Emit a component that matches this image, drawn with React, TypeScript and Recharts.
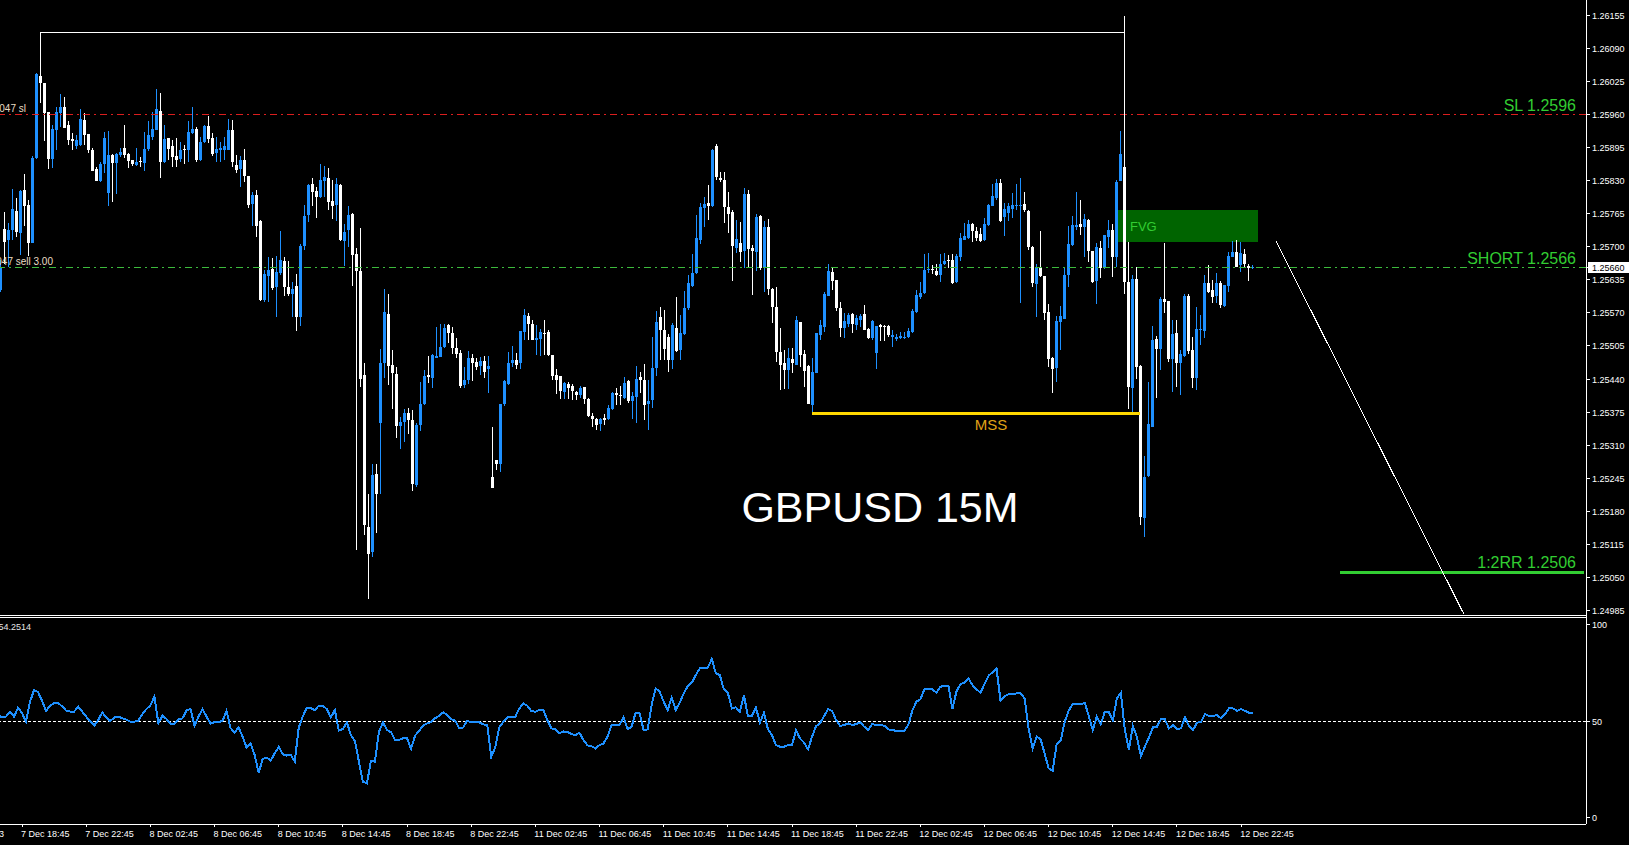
import React from 'react';
import { ComposedChart, Bar, Line, XAxis, YAxis, ReferenceLine, ReferenceArea } from 'recharts';

// ---- GBPUSD 15M candles (7 Dec 17:15 ... 12 Dec 23:30), one value per bar ----
const OPEN = [
1.25615,1.25735,1.25713,1.25733,1.25770,1.25726,1.25812,1.25782,1.25708,1.25874,
1.26036,1.26022,1.25965,1.25872,1.25929,1.25962,1.25975,1.25939,1.25912,1.25898,
1.25900,1.25949,1.25922,1.25889,1.25853,1.25830,1.25862,1.25806,1.25880,1.25864,
1.25880,1.25893,1.25882,1.25871,1.25861,1.25869,1.25865,1.25892,1.25916,1.25929,
1.25967,1.25867,1.25913,1.25898,1.25878,1.25872,1.25892,1.25889,1.25923,1.25931,
1.25871,1.25905,1.25937,1.25913,1.25885,1.25889,1.25890,1.25890,1.25929,1.25861,
1.25853,1.25871,1.25839,1.25784,1.25802,1.25751,1.25595,1.25643,1.25656,1.25621,
1.25648,1.25672,1.25620,1.25607,1.25623,1.25561,1.25701,1.25762,1.25823,1.25810,
1.25798,1.25830,1.25834,1.25790,1.25781,1.25821,1.25712,1.25733,1.25764,1.25686,
1.25653,1.25448,1.25150,1.25101,1.25253,1.25354,1.25472,1.25568,1.25468,1.25450,
1.25348,1.25356,1.25374,1.25360,1.25232,1.25350,1.25392,1.25448,1.25443,1.25482,
1.25484,1.25504,1.25546,1.25530,1.25502,1.25492,1.25428,1.25439,1.25482,1.25474,
1.25466,1.25476,1.25459,1.25248,1.25282,1.25274,1.25391,1.25431,1.25471,1.25477,
1.25471,1.25533,1.25564,1.25548,1.25516,1.25518,1.25531,1.25533,1.25487,1.25448,
1.25446,1.25415,1.25431,1.25426,1.25415,1.25408,1.25425,1.25400,1.25367,1.25361,
1.25351,1.25364,1.25361,1.25382,1.25412,1.25408,1.25402,1.25436,1.25397,1.25405,
1.25444,1.25438,1.25391,1.25398,1.25461,1.25562,1.25537,1.25523,1.25478,1.25541,
1.25497,1.25529,1.25579,1.25622,1.25649,1.25714,1.25776,1.25786,1.25780,1.25898,
1.25834,1.25831,1.25778,1.25769,1.25698,1.25708,1.25692,1.25803,1.25698,1.25690,
1.25760,1.25659,1.25739,1.25616,1.25582,1.25493,1.25471,1.25458,1.25479,1.25468,
1.25553,1.25490,1.25466,1.25389,1.25452,1.25526,1.25543,1.25603,1.25651,1.25635,
1.25579,1.25540,1.25549,1.25568,1.25546,1.25557,1.25568,1.25538,1.25520,1.25492,
1.25546,1.25545,1.25545,1.25522,1.25518,1.25520,1.25521,1.25522,1.25533,1.25572,
1.25602,1.25610,1.25654,1.25656,1.25652,1.25644,1.25666,1.25674,1.25674,1.25631,
1.25680,1.25714,1.25718,1.25745,1.25731,1.25725,1.25713,1.25743,1.25780,1.25795,
1.25826,1.25758,1.25767,1.25775,1.25779,1.25779,1.25784,1.25771,1.25700,1.25627,
1.25659,1.25642,1.25572,1.25481,1.25461,1.25553,1.25558,1.25644,1.25703,1.25738,
1.25745,1.25739,1.25752,1.25692,1.25633,1.25697,1.25659,1.25720,1.25733,1.25680,
1.25829,1.25856,1.25631,1.25422,1.25636,1.25466,1.25168,1.25249,1.25346,1.25518,
1.25500,1.25597,1.25593,1.25479,1.25530,1.25471,1.25486,1.25603,1.25498,1.25443,
1.25536,1.25535,1.25628,1.25615,1.25603,1.25628,1.25583,1.25623,1.25680,1.25689,
1.25664,1.25686,1.25663,1.25658,
];

const HIGH = [
1.25674,1.25769,1.25746,1.25813,1.25795,1.25812,1.25842,1.25792,1.25878,1.26042,
1.26047,1.26022,1.25965,1.25939,1.25975,1.25999,1.25994,1.25946,1.25923,1.25920,
1.25971,1.25962,1.25922,1.25893,1.25856,1.25867,1.25925,1.25928,1.25882,1.25884,
1.25893,1.25939,1.25884,1.25871,1.25893,1.25877,1.25926,1.25946,1.25964,1.26009,
1.26002,1.25939,1.25913,1.25910,1.25913,1.25906,1.25900,1.25946,1.25974,1.25936,
1.25916,1.25939,1.25957,1.25923,1.25916,1.25905,1.25916,1.25950,1.25949,1.25880,
1.25878,1.25891,1.25839,1.25808,1.25812,1.25753,1.25654,1.25680,1.25677,1.25682,
1.25730,1.25680,1.25672,1.25630,1.25646,1.25705,1.25782,1.25824,1.25834,1.25818,
1.25862,1.25859,1.25855,1.25831,1.25834,1.25824,1.25745,1.25780,1.25766,1.25697,
1.25736,1.25471,1.25215,1.25273,1.25273,1.25500,1.25616,1.25607,1.25497,1.25464,
1.25366,1.25382,1.25384,1.25379,1.25353,1.25435,1.25458,1.25485,1.25489,1.25543,
1.25549,1.25549,1.25548,1.25543,1.25521,1.25497,1.25464,1.25496,1.25489,1.25481,
1.25484,1.25485,1.25485,1.25346,1.25282,1.25392,1.25438,1.25494,1.25505,1.25492,
1.25534,1.25577,1.25570,1.25556,1.25546,1.25539,1.25557,1.25537,1.25487,1.25459,
1.25446,1.25434,1.25434,1.25431,1.25417,1.25426,1.25425,1.25402,1.25374,1.25364,
1.25364,1.25372,1.25389,1.25415,1.25423,1.25426,1.25444,1.25439,1.25415,1.25465,
1.25454,1.25469,1.25438,1.25523,1.25573,1.25582,1.25575,1.25528,1.25550,1.25602,
1.25565,1.25613,1.25644,1.25685,1.25763,1.25785,1.25797,1.25821,1.25891,1.25901,
1.25847,1.25847,1.25807,1.25772,1.25753,1.25749,1.25816,1.25811,1.25703,1.25764,
1.25762,1.25751,1.25755,1.25618,1.25620,1.25540,1.25497,1.25502,1.25502,1.25563,
1.25553,1.25497,1.25468,1.25481,1.25531,1.25556,1.25612,1.25667,1.25659,1.25635,
1.25592,1.25569,1.25570,1.25570,1.25566,1.25567,1.25585,1.25540,1.25556,1.25544,
1.25549,1.25547,1.25546,1.25536,1.25528,1.25533,1.25533,1.25540,1.25577,1.25614,
1.25631,1.25686,1.25687,1.25664,1.25667,1.25686,1.25687,1.25684,1.25686,1.25686,
1.25726,1.25747,1.25752,1.25747,1.25739,1.25736,1.25756,1.25784,1.25824,1.25832,
1.25832,1.25785,1.25785,1.25805,1.25824,1.25834,1.25808,1.25772,1.25701,1.25667,
1.25730,1.25642,1.25587,1.25483,1.25563,1.25584,1.25661,1.25741,1.25760,1.25808,
1.25792,1.25764,1.25754,1.25692,1.25707,1.25712,1.25723,1.25752,1.25745,1.25831,
1.25927,1.25870,1.25710,1.25644,1.25661,1.25468,1.25289,1.25435,1.25544,1.25525,
1.25602,1.25707,1.25593,1.25557,1.25557,1.25498,1.25608,1.25608,1.25522,1.25581,
1.25566,1.25644,1.25665,1.25635,1.25649,1.25633,1.25625,1.25690,1.25712,1.25713,
1.25710,1.25695,1.25667,1.25664,
];

const LOW = [
1.25612,1.25667,1.25661,1.25713,1.25720,1.25684,1.25740,1.25681,1.25708,1.25872,
1.25983,1.25908,1.25853,1.25854,1.25889,1.25936,1.25933,1.25900,1.25890,1.25891,
1.25898,1.25900,1.25884,1.25848,1.25830,1.25828,1.25844,1.25779,1.25787,1.25804,
1.25877,1.25874,1.25855,1.25859,1.25859,1.25857,1.25848,1.25887,1.25910,1.25929,
1.25834,1.25864,1.25871,1.25856,1.25856,1.25867,1.25862,1.25867,1.25922,1.25867,
1.25869,1.25903,1.25903,1.25879,1.25867,1.25867,1.25871,1.25890,1.25856,1.25844,
1.25818,1.25828,1.25776,1.25740,1.25719,1.25594,1.25592,1.25592,1.25615,1.25561,
1.25644,1.25604,1.25604,1.25561,1.25535,1.25545,1.25693,1.25749,1.25779,1.25757,
1.25796,1.25798,1.25772,1.25754,1.25750,1.25712,1.25662,1.25700,1.25623,1.25104,
1.25425,1.25133,1.25009,1.25090,1.25138,1.25215,1.25443,1.25428,1.25382,1.25325,
1.25302,1.25317,1.25333,1.25221,1.25228,1.25338,1.25389,1.25433,1.25423,1.25481,
1.25483,1.25502,1.25511,1.25489,1.25481,1.25422,1.25422,1.25431,1.25436,1.25458,
1.25448,1.25443,1.25413,1.25226,1.25261,1.25258,1.25387,1.25428,1.25464,1.25459,
1.25459,1.25516,1.25516,1.25516,1.25487,1.25485,1.25488,1.25485,1.25439,1.25410,
1.25400,1.25400,1.25400,1.25398,1.25398,1.25402,1.25391,1.25366,1.25345,1.25340,
1.25338,1.25349,1.25359,1.25380,1.25389,1.25389,1.25400,1.25393,1.25362,1.25353,
1.25412,1.25359,1.25340,1.25384,1.25446,1.25477,1.25477,1.25454,1.25459,1.25493,
1.25478,1.25526,1.25575,1.25621,1.25646,1.25706,1.25739,1.25753,1.25777,1.25831,
1.25827,1.25747,1.25727,1.25633,1.25688,1.25670,1.25659,1.25659,1.25605,1.25653,
1.25655,1.25611,1.25605,1.25550,1.25474,1.25418,1.25420,1.25420,1.25452,1.25468,
1.25464,1.25425,1.25392,1.25373,1.25451,1.25517,1.25533,1.25603,1.25615,1.25574,
1.25523,1.25520,1.25543,1.25530,1.25536,1.25543,1.25536,1.25518,1.25517,1.25460,
1.25515,1.25515,1.25523,1.25504,1.25515,1.25518,1.25519,1.25520,1.25531,1.25570,
1.25597,1.25608,1.25648,1.25646,1.25642,1.25631,1.25664,1.25659,1.25627,1.25629,
1.25671,1.25714,1.25716,1.25710,1.25712,1.25710,1.25712,1.25741,1.25779,1.25792,
1.25749,1.25721,1.25751,1.25756,1.25773,1.25590,1.25769,1.25693,1.25620,1.25562,
1.25641,1.25556,1.25464,1.25413,1.25435,1.25497,1.25558,1.25621,1.25701,1.25732,
1.25723,1.25680,1.25669,1.25628,1.25587,1.25638,1.25656,1.25697,1.25641,1.25661,
1.25829,1.25607,1.25382,1.25376,1.25441,1.25153,1.25130,1.25248,1.25345,1.25402,
1.25458,1.25569,1.25474,1.25415,1.25425,1.25409,1.25484,1.25490,1.25422,1.25418,
1.25507,1.25520,1.25610,1.25590,1.25589,1.25579,1.25582,1.25612,1.25679,1.25661,
1.25651,1.25658,1.25633,1.25656,
];

const CLOSE = [
1.25661,1.25710,1.25733,1.25774,1.25728,1.25810,1.25780,1.25708,1.25875,1.26039,
1.26022,1.25962,1.25872,1.25931,1.25965,1.25975,1.25934,1.25910,1.25908,1.25910,
1.25951,1.25920,1.25889,1.25849,1.25830,1.25863,1.25914,1.25880,1.25864,1.25882,
1.25886,1.25880,1.25869,1.25862,1.25867,1.25867,1.25892,1.25920,1.25931,1.25971,
1.25867,1.25912,1.25892,1.25877,1.25871,1.25890,1.25889,1.25926,1.25931,1.25871,
1.25906,1.25937,1.25912,1.25882,1.25891,1.25893,1.25897,1.25929,1.25867,1.25851,
1.25871,1.25838,1.25782,1.25802,1.25740,1.25595,1.25646,1.25654,1.25619,1.25650,
1.25674,1.25620,1.25607,1.25617,1.25561,1.25701,1.25760,1.25821,1.25808,1.25798,
1.25831,1.25836,1.25788,1.25779,1.25823,1.25713,1.25728,1.25762,1.25684,1.25653,
1.25441,1.25153,1.25097,1.25251,1.25215,1.25471,1.25571,1.25466,1.25451,1.25348,
1.25356,1.25373,1.25360,1.25234,1.25350,1.25392,1.25446,1.25445,1.25487,1.25485,
1.25504,1.25541,1.25530,1.25502,1.25489,1.25426,1.25439,1.25482,1.25471,1.25464,
1.25476,1.25454,1.25466,1.25226,1.25274,1.25391,1.25437,1.25472,1.25477,1.25468,
1.25534,1.25565,1.25548,1.25516,1.25521,1.25533,1.25529,1.25487,1.25446,1.25439,
1.25416,1.25432,1.25423,1.25416,1.25408,1.25423,1.25400,1.25367,1.25361,1.25349,
1.25361,1.25359,1.25383,1.25412,1.25408,1.25407,1.25432,1.25397,1.25406,1.25441,
1.25438,1.25389,1.25397,1.25461,1.25552,1.25537,1.25499,1.25478,1.25546,1.25495,
1.25531,1.25579,1.25628,1.25649,1.25718,1.25777,1.25784,1.25780,1.25890,1.25836,
1.25831,1.25778,1.25765,1.25701,1.25715,1.25690,1.25803,1.25696,1.25692,1.25759,
1.25659,1.25738,1.25616,1.25582,1.25493,1.25467,1.25458,1.25481,1.25471,1.25556,
1.25487,1.25456,1.25392,1.25454,1.25531,1.25546,1.25607,1.25653,1.25633,1.25579,
1.25540,1.25555,1.25566,1.25548,1.25559,1.25564,1.25536,1.25520,1.25554,1.25544,
1.25543,1.25543,1.25526,1.25526,1.25523,1.25525,1.25523,1.25534,1.25574,1.25605,
1.25610,1.25654,1.25656,1.25654,1.25644,1.25667,1.25672,1.25672,1.25628,1.25682,
1.25718,1.25722,1.25745,1.25730,1.25718,1.25712,1.25745,1.25782,1.25800,1.25826,
1.25750,1.25775,1.25779,1.25782,1.25782,1.25782,1.25772,1.25700,1.25628,1.25659,
1.25642,1.25570,1.25479,1.25459,1.25554,1.25563,1.25644,1.25705,1.25743,1.25743,
1.25739,1.25754,1.25692,1.25630,1.25699,1.25659,1.25723,1.25733,1.25679,1.25828,
1.25882,1.25631,1.25425,1.25636,1.25464,1.25170,1.25247,1.25352,1.25517,1.25500,
1.25597,1.25592,1.25479,1.25528,1.25471,1.25489,1.25603,1.25495,1.25443,1.25538,
1.25538,1.25628,1.25612,1.25601,1.25628,1.25585,1.25625,1.25682,1.25690,1.25661,
1.25688,1.25666,1.25658,1.25660,
];

// RSI(14) as read from the lower window
const RSI = [
53.2,51.8,52.3,54.9,52.3,56.9,54.0,49.7,60.1,66.1,
64.9,60.4,55.2,58.0,59.2,59.4,57.5,55.4,54.9,54.9,
57.5,54.9,52.3,49.7,47.6,50.6,54.4,51.8,50.0,51.8,
52.3,51.4,50.7,49.7,49.7,50.2,53.5,56.2,58.0,62.6,
48.8,52.8,51.1,48.7,48.7,50.9,51.4,55.4,56.2,47.6,
52.3,56.1,52.3,48.7,49.4,49.5,50.0,55.2,46.3,44.2,
46.6,41.9,36.2,38.5,32.4,23.1,30.4,31.1,29.5,33.3,
36.6,32.8,32.1,32.5,29.0,46.6,52.3,56.9,56.6,55.6,
58.0,58.0,56.1,51.8,55.7,45.0,45.9,49.2,42.8,39.7,
29.0,18.6,17.8,29.3,29.0,44.5,49.2,45.4,44.2,40.2,
40.2,41.1,41.1,35.6,42.4,44.9,47.6,48.8,49.4,51.4,
52.6,54.5,53.1,51.0,50.2,46.2,46.7,50.2,49.3,49.3,
49.3,48.3,47.9,31.5,36.4,46.7,49.6,51.9,52.2,52.2,
56.5,59.1,57.9,55.2,54.8,55.7,55.7,50.5,46.2,45.7,
43.6,44.6,44.3,43.3,42.7,43.9,40.1,37.4,37.0,35.8,
37.6,38.4,41.9,47.9,47.9,47.9,51.9,45.8,47.0,54.3,
53.9,45.3,45.7,58.3,66.9,65.2,60.0,55.7,62.2,55.7,
59.5,64.3,68.1,69.8,73.8,77.2,77.2,77.6,82.1,74.7,
73.8,66.4,64.6,56.5,57.1,54.8,63.4,52.6,52.6,57.1,
49.1,54.3,45.7,42.7,37.6,36.7,36.7,37.6,37.6,45.3,
41.0,38.8,35.3,41.9,47.4,48.8,52.6,56.2,55.2,50.5,
47.4,47.9,48.8,47.9,48.4,49.3,47.1,45.3,48.4,47.9,
47.9,47.6,45.7,45.2,45.0,45.0,45.0,47.9,55.3,60.0,
61.2,66.4,66.5,66.5,64.6,67.7,68.3,68.3,56.2,65.2,
69.1,69.8,72.1,68.6,66.5,64.6,69.1,73.4,75.2,77.2,
60.5,62.9,63.8,63.8,64.3,64.3,61.7,46.2,35.8,41.9,
40.5,33.2,25.5,24.3,38.1,39.8,49.6,55.3,58.8,58.8,
58.6,59.5,52.6,45.3,52.2,48.4,54.8,54.8,50.2,61.7,
64.6,45.3,35.3,47.4,41.9,31.9,36.7,41.5,46.7,47.1,
50.8,50.8,46.2,47.9,45.8,46.2,51.9,47.4,45.3,49.1,
49.6,53.6,52.6,52.6,53.1,51.4,53.6,56.7,56.5,55.3,
56.2,55.2,54.3,54.3,
];

// time axis labels (bar index -> label)
const TIME_TICK_INDEX = [6, 22, 38, 54, 70, 86, 102, 118, 134, 150, 166, 182, 198, 214, 230, 246, 262, 278, 294, 310];
const TIME_TICK_LABELS = [
  '7 Dec 18:45', '7 Dec 22:45', '8 Dec 02:45', '8 Dec 06:45', '8 Dec 10:45', '8 Dec 14:45', '8 Dec 18:45',
  '8 Dec 22:45', '11 Dec 02:45', '11 Dec 06:45', '11 Dec 10:45', '11 Dec 14:45', '11 Dec 18:45',
  '11 Dec 22:45', '12 Dec 02:45', '12 Dec 06:45', '12 Dec 10:45', '12 Dec 14:45', '12 Dec 18:45', '12 Dec 22:45',
];

// price axis labels
const PRICE_TICKS = [
  1.26155, 1.2609, 1.26025, 1.2596, 1.25895, 1.2583, 1.25765, 1.257, 1.2566, 1.25635,
  1.2557, 1.25505, 1.2544, 1.25375, 1.2531, 1.25245, 1.2518, 1.25115, 1.2505, 1.24985,
];
const RSI_TICKS = [0, 50, 100];

// levels & drawings
const LAST_PRICE = 1.2566;
const SL_PRICE = 1.2596;
const SHORT_PRICE = 1.2566;
const TP_PRICE = 1.2506;
const TP_FROM = 335;
const MSS_PRICE = 1.25373;
const MSS_FROM = 203;
const MSS_TO = 285;
const FVG_FROM = 280;
const FVG_TO = 314;
const FVG_LOW = 1.2571;
const FVG_HIGH = 1.25773;
const RANGE_TOP = 1.2612;
const RANGE_LEFT = 10;
const RANGE_LEFT_LOW = 1.26045;
const RANGE_RIGHT = 281;
const RANGE_RIGHT_TOP = 1.26153;
const RANGE_RIGHT_LOW = 1.2587;
const PROJ_FROM = 319;
const PROJ_FROM_PRICE = 1.25711;
const PROJ_TO = 366;
const PROJ_TO_PRICE = 1.24978;

const SLOTS = 397;
const PRICE_MIN = 1.249767;
const PRICE_MAX = 1.261845;
const RSI_MIN = -3.3;
const RSI_MAX = 102.8;

const FONT = "'Liberation Sans', Arial, sans-serif";
const BULL = '#1E90FF';
const BEAR = '#FFFFFF';
const GREEN_TEXT = '#32CD32';
const ORDER_TEXT = '#eadcc4';

const data = Array.from({ length: SLOTS }, (_, i) =>
  i < CLOSE.length
    ? { i, o: OPEN[i], h: HIGH[i], l: LOW[i], c: CLOSE[i], range: [LOW[i], HIGH[i]], rsi: RSI[i] }
    : { i }
);

const Candle = (props: any) => {
  const { x, y, width, height, payload } = props;
  if (!payload || payload.o == null || x == null || y == null) return <g />;
  const top = Math.min(y, y + height);
  const bottom = Math.max(y, y + height);
  const span = payload.h - payload.l;
  const toY = (p: number) => (span > 0 ? top + ((payload.h - p) / span) * (bottom - top) : top);
  const color = payload.c >= payload.o ? BULL : BEAR;
  const cx = Math.round(x + width / 2) - 1;
  const wTop = Math.round(top);
  const wBot = Math.round(bottom);
  const bTop = Math.round(toY(Math.max(payload.o, payload.c)));
  const bBot = Math.round(toY(Math.min(payload.o, payload.c)));
  return (
    <g>
      <rect x={cx} y={wTop} width={1} height={Math.max(1, wBot - wTop)} fill={color} />
      <rect x={cx - 1} y={bTop} width={3} height={Math.max(1, bBot - bTop)} fill={color} />
    </g>
  );
};

const PriceTick = (props: any) => {
  const { x, y, payload } = props;
  const v = Number(payload?.value);
  const cur = Math.abs(v - LAST_PRICE) < 1e-9;
  return (
    <g>
      {cur ? <rect x={x - 4} y={y - 5} width={42} height={11} fill="#fff" /> : null}
      <text x={x} y={y + 3.5} fill={cur ? '#000' : '#fff'} fontSize={9} fontFamily={FONT}>
        {v.toFixed(5)}
      </text>
    </g>
  );
};

const RsiTick = (props: any) => {
  const { x, y, payload } = props;
  return (
    <text x={x} y={y + 3.5} fill="#fff" fontSize={9} fontFamily={FONT}>
      {String(payload?.value)}
    </text>
  );
};

const TimeTick = (props: any) => {
  const { x, y, payload } = props;
  const idx = TIME_TICK_INDEX.indexOf(Number(payload?.value));
  return (
    <text x={x - 1} y={y + 8} fill="#fff" fontSize={9} fontFamily={FONT}>
      {idx >= 0 ? TIME_TICK_LABELS[idx] : ''}
    </text>
  );
};

const LineLabel = (props: any) => {
  const vb = props.viewBox || {};
  const x0 = vb.x ?? 0;
  const w = vb.width ?? 0;
  const y0 = vb.y ?? 0;
  return (
    <g>
      {props.rightText ? (
        <text
          x={x0 + w - (props.rightPad ?? 10)}
          y={y0 - (props.rightLift ?? 3)}
          textAnchor="end"
          fill={GREEN_TEXT}
          fontSize={16}
          fontFamily={FONT}
        >
          {props.rightText}
        </text>
      ) : null}
      {props.leftText ? (
        <text x={props.leftEnd} y={y0 - 2} textAnchor="end" fill={ORDER_TEXT} fontSize={10} fontFamily={FONT}>
          {props.leftText}
        </text>
      ) : null}
    </g>
  );
};

const MssLabel = (props: any) => {
  const vb = props.viewBox || {};
  return (
    <text x={(vb.x ?? 0) + (vb.width ?? 0) / 2 + 15} y={(vb.y ?? 0) + 17} textAnchor="middle" fill="#E0A317" fontSize={15} fontFamily={FONT}>
      MSS
    </text>
  );
};

const FvgLabel = (props: any) => {
  const vb = props.viewBox || {};
  return (
    <text x={(vb.x ?? 0) + 12} y={(vb.y ?? 0) + (vb.height ?? 0) / 2 + 5} fill={GREEN_TEXT} fontSize={13} fontFamily={FONT}>
      FVG
    </text>
  );
};

export default function App() {
  return (
    <div
      style={{
        position: 'fixed',
        left: 0,
        top: 0,
        width: 1629,
        height: 845,
        background: '#000',
        overflow: 'hidden',
        shapeRendering: 'crispEdges' as any,
      }}
    >
      <div style={{ position: 'absolute', left: -2, top: 0 }}>
        <ComposedChart width={1631} height={615} data={data} margin={{ top: 0, right: 0, bottom: 0, left: 0 }}>
          <XAxis dataKey="i" type="category" hide />
          <YAxis
            orientation="right"
            width={43}
            type="number"
            domain={[PRICE_MIN, PRICE_MAX]}
            allowDataOverflow
            ticks={PRICE_TICKS}
            interval={0}
            axisLine={{ stroke: '#fff' }}
            tickLine={{ stroke: '#fff' }}
            tickSize={4}
            tickMargin={2}
            tick={<PriceTick />}
          />
          <ReferenceArea x1={FVG_FROM} x2={FVG_TO} y1={FVG_LOW} y2={FVG_HIGH} fill="#006400" fillOpacity={1} stroke="none" label={<FvgLabel />} />
          <ReferenceLine
            y={SL_PRICE}
            stroke="#dc1e1e"
            strokeDasharray="7 4 2 4"
            label={<LineLabel rightText="SL 1.2596" leftText="5047 sl" leftEnd={28} />}
          />
          <ReferenceLine
            y={SHORT_PRICE}
            stroke="#3cbb3c"
            strokeDasharray="7 4 2 4"
            label={<LineLabel rightText="SHORT 1.2566" leftText="5047 sell 3.00" leftEnd={55} />}
          />
          <Bar dataKey="range" barSize={3} shape={<Candle />} isAnimationActive={false} />
          <ReferenceLine
            segment={[{ x: MSS_FROM, y: MSS_PRICE }, { x: MSS_TO, y: MSS_PRICE }]}
            stroke="#FFD700"
            strokeWidth={3}
            label={<MssLabel />}
          />
          <ReferenceLine
            segment={[{ x: TP_FROM, y: TP_PRICE }, { x: SLOTS - 1, y: TP_PRICE }]}
            stroke="#32CD32"
            strokeWidth={3}
            label={<LineLabel rightText="1:2RR 1.2506" rightPad={8} rightLift={5} />}
          />
          <ReferenceLine
            segment={[{ x: PROJ_FROM, y: PROJ_FROM_PRICE }, { x: PROJ_TO, y: PROJ_TO_PRICE }]}
            stroke="#fff"
            strokeWidth={1}
            ifOverflow="hidden"
          />
          <ReferenceLine segment={[{ x: RANGE_LEFT, y: RANGE_TOP }, { x: RANGE_RIGHT, y: RANGE_TOP }]} stroke="#fff" />
          <ReferenceLine segment={[{ x: RANGE_LEFT, y: RANGE_TOP }, { x: RANGE_LEFT, y: RANGE_LEFT_LOW }]} stroke="#fff" />
          <ReferenceLine segment={[{ x: RANGE_RIGHT, y: RANGE_RIGHT_TOP }, { x: RANGE_RIGHT, y: RANGE_RIGHT_LOW }]} stroke="#fff" />
        </ComposedChart>
      </div>

      <div style={{ position: 'absolute', left: 0, top: 615, width: 1586, height: 1, background: '#fff' }} />
      <div style={{ position: 'absolute', left: 0, top: 617, width: 1586, height: 1, background: '#fff' }} />
      <div style={{ position: 'absolute', left: 1586, top: 614, width: 1, height: 6, background: '#fff' }} />

      <div style={{ position: 'absolute', left: -2, top: 619 }}>
        <ComposedChart width={1631} height={226} data={data} margin={{ top: 0, right: 0, bottom: 0, left: 0 }}>
          <XAxis
            dataKey="i"
            type="category"
            ticks={TIME_TICK_INDEX}
            interval={0}
            height={21}
            axisLine={{ stroke: '#fff' }}
            tickLine={{ stroke: '#fff' }}
            tickSize={3}
            tickMargin={2}
            tick={<TimeTick />}
          />
          <YAxis
            orientation="right"
            width={43}
            type="number"
            domain={[RSI_MIN, RSI_MAX]}
            allowDataOverflow
            ticks={RSI_TICKS}
            interval={0}
            axisLine={{ stroke: '#fff' }}
            tickLine={{ stroke: '#fff' }}
            tickSize={4}
            tickMargin={2}
            tick={<RsiTick />}
          />
          <ReferenceLine y={50} stroke="#fff" strokeDasharray="3 2" />
          <Line dataKey="rsi" type="linear" stroke="#1E90FF" strokeWidth={2} dot={false} activeDot={false} isAnimationActive={false} />
        </ComposedChart>
      </div>

      <svg width={1629} height={845} style={{ position: 'absolute', left: 0, top: 0, pointerEvents: 'none' }}>
        <text x={880} y={522} textAnchor="middle" fill="#fff" fontSize={43} fontFamily={FONT}>
          GBPUSD 15M
        </text>
        <text x={31} y={630} textAnchor="end" fill="#e6e6e6" fontSize={9} fontFamily={FONT}>
          RSI(14) 54.2514
        </text>
        <text x={4} y={837} textAnchor="end" fill="#fff" fontSize={9} fontFamily={FONT}>
          7 Dec 2023
        </text>
      </svg>
    </div>
  );
}
